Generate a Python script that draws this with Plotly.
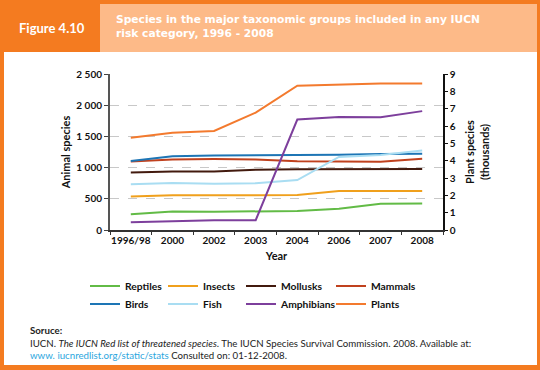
import plotly.graph_objects as go

# ---- data ----
years = ["1996/98", "2000", "2002", "2003", "2004", "2006", "2007", "2008"]
reptiles = [253, 296, 293, 293, 304, 341, 422, 423]
insects = [537, 555, 557, 555, 559, 623, 623, 626]
mollusks = [920, 938, 939, 967, 974, 975, 978, 978]
mammals = [1096, 1130, 1137, 1130, 1101, 1093, 1094, 1141]
birds = [1107, 1183, 1192, 1194, 1206, 1206, 1217, 1222]
fish = [734, 752, 742, 750, 800, 1171, 1201, 1275]
amphibians = [124, 146, 157, 157, 1770, 1811, 1808, 1905]
plants_thousands = [5.328, 5.611, 5.714, 6.774, 8.321, 8.390, 8.447, 8.457]

left_tickvals = [0, 500, 1000, 1500, 2000, 2500]
left_ticktext = ["0", "500", "1 000", "1 500", "2 000", "2 500"]
right_tickvals = [0, 1, 2, 3, 4, 5, 6, 7, 8, 9]

# ---- styles ----
W, H = 540, 370
L, R, T, B = 110, 443, 74, 230  # plot area in px
DARK = "#F47B20"
LIGHT = "#FDBA88"
FONT = "Lato"

def px(x):
    return (x - L) / (R - L)

def py(y):
    return (B - y) / (B - T)

def cx(x):
    return x / W

def cy(y):
    return 1 - y / H

# name, values, colour, axis, legend text-start x, legend row y
series = [
    ("Reptiles", reptiles, "#62BB46", "y", 125, 286),
    ("Insects", insects, "#F0A01C", "y", 203, 286),
    ("Mollusks", mollusks, "#421A0E", "y", 281, 286),
    ("Mammals", mammals, "#C0411E", "y", 371, 286),
    ("Birds", birds, "#1D75B5", "y", 125, 304),
    ("Fish", fish, "#A9DDF2", "y", 203, 304),
    ("Amphibians", amphibians, "#7D3F9C", "y", 281, 304),
    ("Plants", plants_thousands, "#F37A2E", "y2", 371, 304),
]

fig = go.Figure()
legends = {}
for i, (name, vals, color, ax, lx, ly) in enumerate(series):
    lg = "legend" if i == 0 else f"legend{i + 1}"
    fig.add_trace(go.Scatter(x=years, y=vals, name=name, mode="lines",
                             line=dict(color=color, width=2), yaxis=ax, legend=lg,
                             showlegend=True))
    legends[lg] = dict(orientation="h", xanchor="left", yanchor="middle",
                       xref="container", yref="container",
                       x=cx(lx - 40), y=cy(ly),
                       bgcolor="rgba(0,0,0,0)", visible=True,
                       font=dict(family=FONT, size=10.3, color="#111", weight="bold"),
                       itemwidth=30)

shapes = [
    dict(type="rect", xref="paper", yref="paper", x0=px(4), x1=px(537),
         y0=py(365), y1=py(52), fillcolor="white", line=dict(width=0), layer="below"),
    dict(type="rect", xref="paper", yref="paper", x0=px(100), x1=px(537),
         y0=py(52), y1=py(4), fillcolor=LIGHT, line=dict(width=0), layer="below"),
]

annotations = [
    dict(text="<b>Figure 4.10</b>", x=px(52), y=py(28), xref="paper", yref="paper",
         showarrow=False, xanchor="center", yanchor="middle",
         font=dict(family=FONT, size=13, color="white")),
    dict(text="<b>Species in the major taxonomic groups included in any IUCN<br>risk category, 1996 - 2008</b>",
         x=px(114), y=py(27), xref="paper", yref="paper", showarrow=False,
         xanchor="left", yanchor="middle", align="left",
         font=dict(family="DejaVu Sans", size=10.7, color="white")),
    dict(text="<b>Soruce:</b><br>IUCN. <i>The IUCN Red list of threatened species</i>. The IUCN Species Survival Commission. 2008. Available at:<br>"
              "<span style='color:#2BA6DE'>www. iucnredlist.org/static/stats</span> Consulted on: 01-12-2008.",
         x=px(28), y=py(322), xref="paper", yref="paper", showarrow=False,
         xanchor="left", yanchor="top", align="left",
         font=dict(family=FONT, size=9.7, color="#222")),
]

tickfont = dict(family=FONT, size=10, color="#111", weight="bold")

fig.update_layout(
    width=W, height=H,
    showlegend=True,
    margin=dict(l=L, r=W - R, t=T, b=H - B, pad=0, autoexpand=False),
    paper_bgcolor=DARK,
    plot_bgcolor="rgba(0,0,0,0)",
    font=dict(family=FONT, color="#111"),
    shapes=shapes,
    annotations=annotations,
    xaxis=dict(
        type="category", range=[-0.5, 7.5], tickson="boundaries",
        ticks="outside", ticklen=3, tickcolor="#333", showgrid=False, tickangle=0,
        showline=True, linecolor="#333", linewidth=1.5,
        tickfont=tickfont,
        title=dict(text="<b>Year</b>", font=dict(family=FONT, size=11), standoff=8),
    ),
    yaxis=dict(
        range=[0, 2500], tickvals=left_tickvals, ticktext=left_ticktext,
        ticks="outside", ticklen=4, tickcolor="#444",
        showline=True, linecolor="#555", linewidth=2,
        showgrid=True, gridcolor="#C8C8C8", griddash="dash", gridwidth=1,
        zeroline=False,
        tickfont=tickfont,
        title=dict(text="<b>Animal species</b>", font=dict(family=FONT, size=11), standoff=4),
    ),
    yaxis2=dict(
        range=[0, 9], tickvals=right_tickvals, overlaying="y", side="right",
        ticks="outside", ticklen=3, tickcolor="#111",
        showline=True, linecolor="#111", linewidth=1.5, showgrid=False,
        zeroline=False,
        tickfont=tickfont,
        title=dict(text="<b>Plant species<br>(thousands)</b>", font=dict(family=FONT, size=11), standoff=12),
    ),
    **legends,
)

fig.write_html("out.html", config={"displayModeBar": False},
               post_script="document.body.style.margin='0px';")
